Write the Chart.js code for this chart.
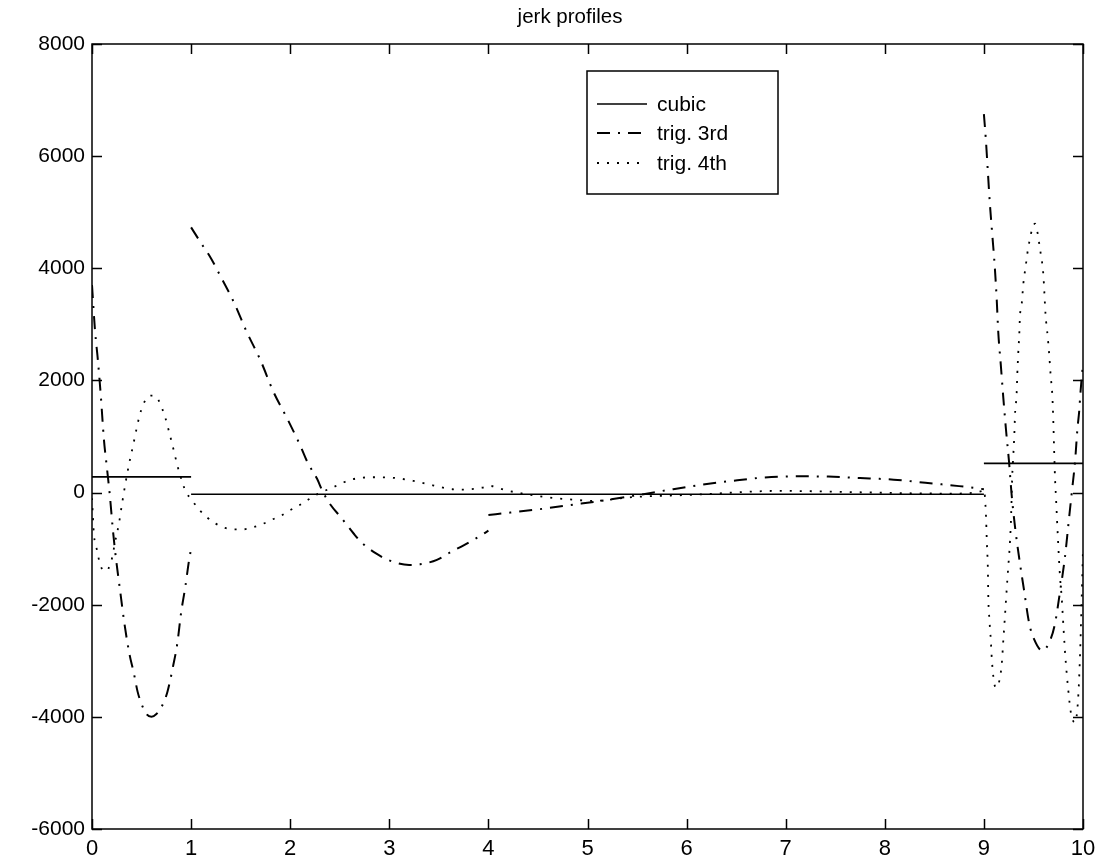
<!DOCTYPE html>
<html>
<head>
<meta charset="utf-8">
<script src="https://cdn.jsdelivr.net/npm/chart.js@4.4.1/dist/chart.umd.min.js"></script>
<style>
    html, body { margin: 0; padding: 0; background: #fff; }
    #wrap { width: 1104px; height: 868px; }
</style>
</head>
<body>
<div id="wrap"><canvas id="jerkChart" width="1104" height="868"></canvas></div>
<script>
// values (null = break between segments)
var cubicX = [0, 1, 1, 1, 9, 9, 9, 10];
var cubicY = [280, 280, null, -30, -30, null, 520, 520];

var trig3X = [0, 0.03, 0.06, 0.09, 0.12, 0.15, 0.18, 0.21, 0.24, 0.28, 0.33, 0.38, 0.42, 0.46, 0.5, 0.55, 0.6, 0.65, 0.7, 0.76, 0.82, 0.86, 0.9, 0.94, 0.98, 1.0,
    1.0,
    1.0, 1.1, 1.2, 1.29, 1.43, 1.56, 1.7, 1.83, 1.97, 2.1, 2.18, 2.27, 2.33, 2.4, 2.52, 2.64, 2.72, 2.87, 3.0, 3.2, 3.31, 3.48, 3.61, 3.75, 3.9, 4.0,
    4.0,
    4.0, 4.22, 4.5, 4.86, 5.18, 5.46, 5.82, 6.14, 6.46, 6.78, 7.11, 7.43, 7.75, 8.09, 8.41, 8.75, 9.0,
    9.0,
    9.0, 9.02, 9.04, 9.06, 9.085, 9.11, 9.13, 9.145, 9.17, 9.196, 9.223, 9.253, 9.28, 9.314, 9.357, 9.405, 9.458, 9.505, 9.59, 9.674, 9.717, 9.768, 9.818, 9.852, 9.886, 9.92, 9.943, 9.963, 9.973, 10];
var trig3Y = [3700, 2900, 2350, 1700, 950, 450, -50, -650, -1150, -1700, -2370, -2900, -3200, -3550, -3770, -3950, -4000, -3950, -3830, -3560, -3080, -2700, -2130, -1700, -1200, -1000,
    null,
    4730, 4450, 4180, 3880, 3400, 2870, 2360, 1800, 1320, 845, 520, 250, 10, -200, -460, -730, -890, -1090, -1210, -1290, -1280, -1200, -1070, -940, -790, -680,
    null,
    -400, -357, -300, -215, -137, -59, 48, 137, 209, 268, 290, 285, 260, 230, 175, 115, 60,
    null,
    6750, 6290, 5720, 5160, 4590, 4020, 3420, 2860, 2290, 1690, 1120, 560, -40, -610, -1180, -1740, -2340, -2610, -2820, -2610, -2340, -1770, -1150, -580, -10, 560, 1120, 1480, 1750, 2300];

var trig4X = [0, 0.02, 0.04, 0.061, 0.084, 0.144, 0.189, 0.212, 0.229, 0.252, 0.272, 0.303, 0.336, 0.373, 0.417, 0.457, 0.481, 0.515, 0.565, 0.605, 0.649, 0.693, 0.734, 0.784, 0.835, 0.858, 0.885, 0.918, 0.946, 0.996,
    1.087, 1.163, 1.248, 1.342, 1.436, 1.527, 1.635, 1.729, 1.823, 1.914, 1.998, 2.092, 2.183, 2.267, 2.442, 2.536, 2.631, 2.839, 3.04, 3.242, 3.438, 3.636, 3.741, 3.942, 4.009, 4.15, 4.25,
    4.45, 4.65, 4.85, 5.05, 5.46, 6.05, 6.95, 7.55, 8.27, 8.69, 8.99,
    9.0, 9.02, 9.03, 9.04, 9.045, 9.055, 9.07, 9.08, 9.1, 9.12, 9.15, 9.18, 9.196, 9.213, 9.236, 9.247, 9.264, 9.275, 9.285, 9.297, 9.307, 9.314, 9.33, 9.337, 9.347, 9.357, 9.364, 9.38, 9.398,
    9.425, 9.438, 9.455, 9.475, 9.516, 9.543, 9.56, 9.576, 9.59, 9.6, 9.623, 9.643, 9.66, 9.674, 9.69, 9.7, 9.708, 9.717, 9.727, 9.737, 9.748, 9.758, 9.77, 9.785, 9.797, 9.808, 9.82, 9.85, 9.88, 9.92, 9.95, 9.97, 9.985, 10];
var trig4Y = [-100, -760, -940, -1120, -1300, -1400, -1250, -1090, -910, -730, -550, -200, 150, 500, 860, 1200, 1380, 1560, 1710, 1730, 1710, 1560, 1370, 1040, 680, 505, 340, 150, 13, -107,
    -316, -446, -554, -630, -655, -655, -613, -554, -477, -405, -316, -227, -125, -36, 102, 179, 238, 273, 263, 209, 130, 59, 54, 89, 120, 54, 13,
    -48, -95, -125, -150, -80, -40, 30, 13, -13, -18, 30,
    48, -370, -900, -1357, -1900, -2250, -2640, -2970, -3350, -3480, -3400, -3060, -2630, -2190, -1570, -1300, -850, -400, 250, 675, 1034, 1392, 1751, 2109, 2496, 2826, 3154, 3333, 3722,
    4080, 4259, 4439, 4618, 4797, 4618, 4421, 4229, 4068, 3883, 3154, 2796, 2437, 2079, 1750, 1300, 800, 290, -70, -450, -850, -1200, -1550, -1870, -2220, -2550, -2880, -3500, -3950, -4100, -3700, -2900, -2000, -1000];

var xTicks = [0, 1, 2, 3, 4, 5, 6, 7, 8, 9, 10];
var yTicks = [-6000, -4000, -2000, 0, 2000, 4000, 6000, 8000];
var titulo = 'jerk profiles';

var fuente = '"Liberation Sans", Arial, Helvetica, sans-serif';

function puntos(xs, ys) {
    return xs.map(function (x, i) { return { x: x, y: ys[i] }; });
}

// frame with inward ticks on all four sides, plus the title
var marco = {
    id: 'marco',
    afterDatasetsDraw: function (chart) {
        var ctx = chart.ctx;
        var a = chart.chartArea;
        var sx = chart.scales.x, sy = chart.scales.y;
        ctx.save();
        ctx.strokeStyle = '#000';
        ctx.lineWidth = 1.5;
        ctx.strokeRect(a.left, a.top, a.right - a.left, a.bottom - a.top);
        ctx.beginPath();
        xTicks.forEach(function (v) {
            var px = Math.round(sx.getPixelForValue(v)) + 0.5;
            ctx.moveTo(px, a.bottom); ctx.lineTo(px, a.bottom - 10);
            ctx.moveTo(px, a.top); ctx.lineTo(px, a.top + 10);
        });
        yTicks.forEach(function (v) {
            var py = Math.round(sy.getPixelForValue(v)) + 0.5;
            ctx.moveTo(a.left, py); ctx.lineTo(a.left + 10, py);
            ctx.moveTo(a.right, py); ctx.lineTo(a.right - 10, py);
        });
        ctx.stroke();
        ctx.fillStyle = '#000';
        ctx.font = '20.5px ' + fuente;
        ctx.textAlign = 'center';
        ctx.textBaseline = 'middle';
        ctx.fillText(titulo, 570, 17);
        ctx.restore();
    }
};

// boxed legend inside the plot, top right
var leyenda = {
    id: 'leyenda',
    afterDraw: function (chart) {
        var ctx = chart.ctx;
        ctx.save();
        ctx.fillStyle = '#fff';
        ctx.fillRect(587, 71, 191, 123);
        ctx.strokeStyle = '#000';
        ctx.lineWidth = 1.5;
        ctx.strokeRect(587, 71, 191, 123);
        var filas = [104, 133, 163];
        chart.data.datasets.forEach(function (ds, i) {
            var y = filas[i];
            ctx.beginPath();
            ctx.setLineDash(ds.borderDash || []);
            ctx.lineWidth = ds.borderWidth;
            ctx.strokeStyle = ds.borderColor;
            ctx.moveTo(597, y);
            ctx.lineTo(647, y);
            ctx.stroke();
            ctx.setLineDash([]);
            ctx.fillStyle = '#000';
            ctx.font = '21px ' + fuente;
            ctx.textBaseline = 'middle';
            ctx.textAlign = 'left';
            ctx.fillText(ds.label, 657, y + 1);
        });
        ctx.restore();
    }
};

var jerkCtx = document.getElementById('jerkChart');

var config = {
    type: 'line',
    data: {
        datasets: [{
            label: 'cubic',
            data: puntos(cubicX, cubicY),
            borderColor: '#000',
            borderWidth: 1.6,
            pointRadius: 0,
            spanGaps: false
        }, {
            label: 'trig. 3rd',
            data: puntos(trig3X, trig3Y),
            borderColor: '#000',
            borderWidth: 2,
            borderDash: [13, 8, 2, 8],
            pointRadius: 0,
            cubicInterpolationMode: 'monotone',
            spanGaps: false
        }, {
            label: 'trig. 4th',
            data: puntos(trig4X, trig4Y),
            borderColor: '#000',
            borderWidth: 1.8,
            borderDash: [2, 8],
            pointRadius: 0,
            cubicInterpolationMode: 'monotone',
            spanGaps: false
        }]
    },
    options: {
        responsive: false,
        animation: false,
        devicePixelRatio: 1,
        layout: { padding: { left: 0, right: 21, top: 44, bottom: 0 } },
        plugins: {
            legend: { display: false },
            tooltip: { enabled: false },
            title: { display: false }
        },
        scales: {
            x: {
                type: 'linear',
                min: 0,
                max: 10,
                grid: { display: false, drawTicks: false },
                border: { display: false },
                ticks: {
                    stepSize: 1,
                    maxRotation: 0,
                    color: '#000',
                    padding: 7,
                    font: { family: fuente, size: 22 },
                    callback: function (v) { return String(v); }
                },
                afterFit: function (s) { s.height = 39; }
            },
            y: {
                min: -6000,
                max: 8000,
                grid: { display: false, drawTicks: false },
                border: { display: false },
                ticks: {
                    stepSize: 2000,
                    color: '#000',
                    padding: 7,
                    font: { family: fuente, size: 21 },
                    callback: function (v) { return String(v); }
                },
                afterFit: function (s) { s.width = 92; }
            }
        }
    },
    plugins: [marco, leyenda]
};

window.myChart = new Chart(jerkCtx, config);
</script>
</body>
</html>
